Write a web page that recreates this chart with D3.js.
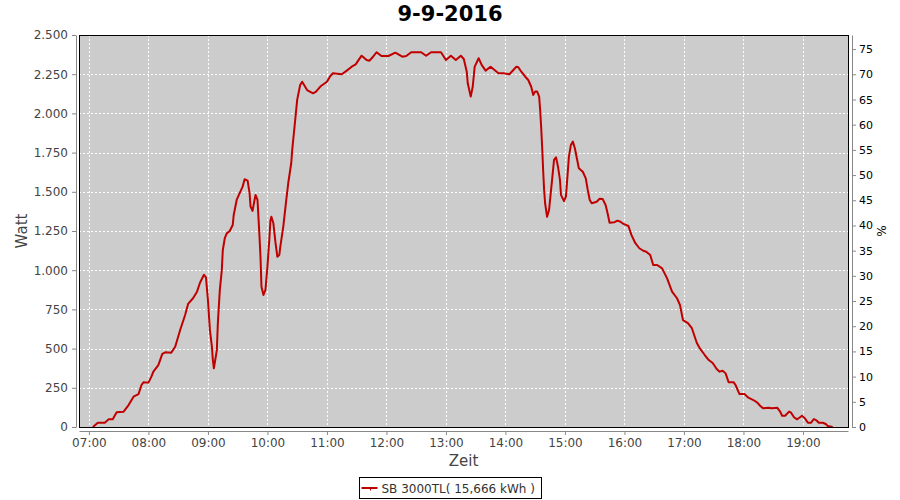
<!DOCTYPE html>
<meta charset="utf-8">
<svg width="900" height="500"></svg>
<script src="https://d3js.org/d3.v7.min.js"></script>

<style>
body { margin: 0; background: #fff; }
text { font-family: "DejaVu Sans", sans-serif; }
.tick text { font-size: 12px; fill: #444; }
.right .tick text { font-size: 11px; fill: #000; }
.axis path, .axis line { stroke: #888; }
</style>

<script>

var title = "9-9-2016",
    day = "2016-09-09";

// time of day and power (W)
var times = ["07:04","07:09","07:16","07:20","07:24","07:28","07:35","07:40","07:45","07:50",
  "07:53","07:55","08:00","08:03","08:05","08:10","08:14","08:17","08:23","08:27",
  "08:32","08:37","08:40","08:45","08:49","08:52","08:56","08:58","09:00","09:02",
  "09:04","09:05","09:06","09:09","09:10","09:12","09:14","09:15","09:17","09:19",
  "09:22","09:25","09:26","09:29","09:32","09:35","09:37","09:40","09:42","09:43",
  "09:45","09:47","09:48","09:50","09:52","09:53","09:54","09:56","09:58","10:00",
  "10:02","10:03","10:04","10:06","10:08","10:10","10:12","10:13","10:16","10:19",
  "10:21","10:24","10:25","10:28","10:30","10:33","10:35","10:37","10:40","10:46",
  "10:49","10:54","11:00","11:03","11:06","11:15","11:20","11:25","11:29","11:32",
  "11:35","11:40","11:43","11:46","11:50","11:55","12:02","12:09","12:16","12:20",
  "12:25","12:35","12:40","12:45","12:55","13:00","13:05","13:10","13:15","13:18",
  "13:21","13:22","13:25","13:27","13:29","13:33","13:36","13:40","13:45","13:49",
  "13:53","13:58","14:04","14:08","14:11","14:13","14:16","14:20","14:23","14:26",
  "14:28","14:30","14:32","14:34","14:35","14:36","14:37","14:38","14:39","14:40",
  "14:42","14:44","14:45","14:47","14:49","14:51","14:53","14:55","14:56","14:59",
  "15:01","15:02","15:04","15:06","15:08","15:10","15:12","15:14","15:18","15:21",
  "15:23","15:25","15:27","15:32","15:35","15:38","15:41","15:43","15:45","15:50",
  "15:53","15:56","15:59","16:04","16:07","16:11","16:15","16:19","16:22","16:26",
  "16:29","16:33","16:38","16:43","16:48","16:53","16:56","16:59","17:04","17:08",
  "17:13","17:16","17:21","17:25","17:29","17:33","17:36","17:39","17:42","17:45",
  "17:50","17:52","17:56","18:01","18:05","18:10","18:14","18:17","18:20","18:25",
  "18:29","18:34","18:37","18:39","18:42","18:46","18:48","18:51","18:54","18:57",
  "18:59","19:02","19:05","19:08","19:11","19:14","19:16","19:20","19:23","19:25",
  "19:30"];

var watts = [0,27,27,49,49,94,98,140,193,210,
  268,285,283,321,353,395,466,476,474,512,
  619,714,785,821,863,920,971,955,810,619,
  512,427,374,491,661,874,1001,1129,1204,1235,
  1250,1288,1352,1448,1491,1533,1580,1571,1491,1405,
  1378,1448,1480,1448,1214,1086,895,842,874,1022,
  1204,1316,1341,1299,1182,1086,1097,1150,1278,1448,
  1556,1682,1767,1958,2086,2181,2202,2181,2149,2128,
  2139,2175,2202,2234,2256,2250,2273,2298,2313,2341,
  2368,2341,2336,2358,2390,2366,2366,2387,2362,2366,
  2390,2390,2368,2390,2390,2341,2368,2341,2368,2347,
  2266,2192,2107,2170,2298,2352,2309,2273,2298,2277,
  2256,2256,2250,2277,2298,2294,2266,2234,2213,2170,
  2118,2139,2139,2107,2022,1915,1788,1639,1512,1427,
  1341,1384,1448,1575,1703,1720,1660,1575,1480,1441,
  1469,1554,1724,1799,1820,1778,1714,1650,1628,1586,
  1512,1448,1427,1437,1456,1454,1416,1363,1303,1306,
  1316,1309,1295,1282,1225,1172,1140,1124,1118,1097,
  1033,1033,1012,948,863,821,778,682,663,630,
  536,502,459,427,408,370,353,359,342,286,
  286,268,210,210,187,172,155,134,119,123,
  119,123,98,72,72,98,91,62,49,62,
  72,55,27,27,51,40,27,27,19,6,
  0];

var hourTicks = ["07:00","08:00","09:00","10:00","11:00","12:00","13:00",
  "14:00","15:00","16:00","17:00","18:00","19:00"];
var wattTicks = [0, 250, 500, 750, 1000, 1250, 1500, 1750, 2000, 2250, 2500];
var wattLabels = ["0","250","500","750","1.000","1.250","1.500","1.750","2.000","2.250","2.500"];
var pctTicks = [0,5,10,15,20,25,30,35,40,45,50,55,60,65,70,75];
var legendLabel = "SB 3000TL( 15,666 kWh )";

var parse = d3.timeParse("%Y-%m-%d %H:%M");
function at(t) { return parse(day + " " + t); }

var data = times.map(function(t, i) { return {date: at(t), value: watts[i]}; });

var svg = d3.select("svg"),
    margin = {top: 35, right: 52, bottom: 73, left: 79},
    width = +svg.attr("width") - margin.left - margin.right,
    height = +svg.attr("height") - margin.top - margin.bottom,
    g = svg.append("g").attr("transform", "translate(" + margin.left + "," + margin.top + ")");

var x = d3.scaleTime()
    .domain([at("06:50"), new Date(at("19:45").getTime() + 25000)])
    .range([0, width]);

var y = d3.scaleLinear()
    .domain([0, 2500])
    .range([height, 0]);

var y2 = d3.scaleLinear()
    .domain([0, 77.8])
    .range([height, 0]);

g.append("rect")
    .attr("width", width)
    .attr("height", height)
    .attr("fill", "#cccccc");

// grid
g.append("g")
  .selectAll("line")
  .data(hourTicks)
  .enter().append("line")
    .attr("x1", function(d) { return Math.round(x(at(d))) + 0.5; })
    .attr("x2", function(d) { return Math.round(x(at(d))) + 0.5; })
    .attr("y1", 0)
    .attr("y2", height)
    .attr("stroke", "#fff")
    .attr("stroke-dasharray", "2,2");

g.append("g")
  .selectAll("line")
  .data(wattTicks)
  .enter().append("line")
    .attr("y1", function(d) { return Math.round(y(d)) + 0.5; })
    .attr("y2", function(d) { return Math.round(y(d)) + 0.5; })
    .attr("x1", 0)
    .attr("x2", width)
    .attr("stroke", "#fff")
    .attr("stroke-dasharray", "2,2");

var line = d3.line()
    .x(function(d) { return x(d.date); })
    .y(function(d) { return y(d.value); });

g.append("path")
    .datum(data)
    .attr("fill", "none")
    .attr("stroke", "#c00000")
    .attr("stroke-width", 2)
    .attr("stroke-linejoin", "round")
    .attr("d", line);

g.append("rect")
    .attr("x", 0.5)
    .attr("y", 0.5)
    .attr("width", width)
    .attr("height", height)
    .attr("fill", "none")
    .attr("stroke", "#000");

// axes
g.append("g")
    .attr("class", "axis")
    .attr("transform", "translate(-3,0)")
    .call(d3.axisLeft(y).tickValues(wattTicks).tickSizeInner(4).tickSizeOuter(0).tickPadding(4)
      .tickFormat(function(d, i) { return wattLabels[i]; }));

g.append("g")
    .attr("class", "axis right")
    .attr("transform", "translate(" + (width + 4) + ",0)")
    .call(d3.axisRight(y2).tickValues(pctTicks).tickSizeInner(4).tickSizeOuter(0).tickPadding(3));

g.append("g")
    .attr("class", "axis")
    .attr("transform", "translate(0," + (height + 4) + ")")
    .call(d3.axisBottom(x).tickValues(hourTicks.map(at)).tickSizeInner(4).tickSizeOuter(0).tickPadding(3)
      .tickFormat(d3.timeFormat("%H:%M")));

// titles
svg.append("text")
    .attr("x", 450)
    .attr("y", 21)
    .attr("text-anchor", "middle")
    .style("font-size", "21px")
    .style("font-weight", "bold")
    .text(title);

svg.append("text")
    .attr("transform", "translate(27," + (margin.top + height / 2) + ") rotate(-90)")
    .attr("text-anchor", "middle")
    .style("font-size", "15px")
    .style("fill", "#444")
    .text("Watt");

svg.append("text")
    .attr("transform", "translate(886," + (margin.top + height / 2) + ") rotate(-90)")
    .attr("text-anchor", "middle")
    .style("font-size", "12px")
    .style("fill", "#000")
    .text("%");

svg.append("text")
    .attr("x", margin.left + width / 2)
    .attr("y", 466)
    .attr("text-anchor", "middle")
    .style("font-size", "15px")
    .style("fill", "#444")
    .text("Zeit");

// legend
var legend = svg.append("g").attr("transform", "translate(359.5,477.5)");
legend.append("rect")
    .attr("width", 182)
    .attr("height", 21)
    .attr("fill", "#fff")
    .attr("stroke", "#000");
legend.append("line")
    .attr("x1", 2).attr("x2", 18).attr("y1", 10.5).attr("y2", 10.5)
    .attr("stroke", "#c00000").attr("stroke-width", 2);
legend.append("line")
    .attr("x1", 11).attr("x2", 11).attr("y1", 10).attr("y2", 13)
    .attr("stroke", "#c00000").attr("stroke-width", 1);
legend.append("text")
    .attr("x", 22)
    .attr("y", 15)
    .style("font-size", "12px")
    .style("fill", "#333")
    .text(legendLabel);

</script>
